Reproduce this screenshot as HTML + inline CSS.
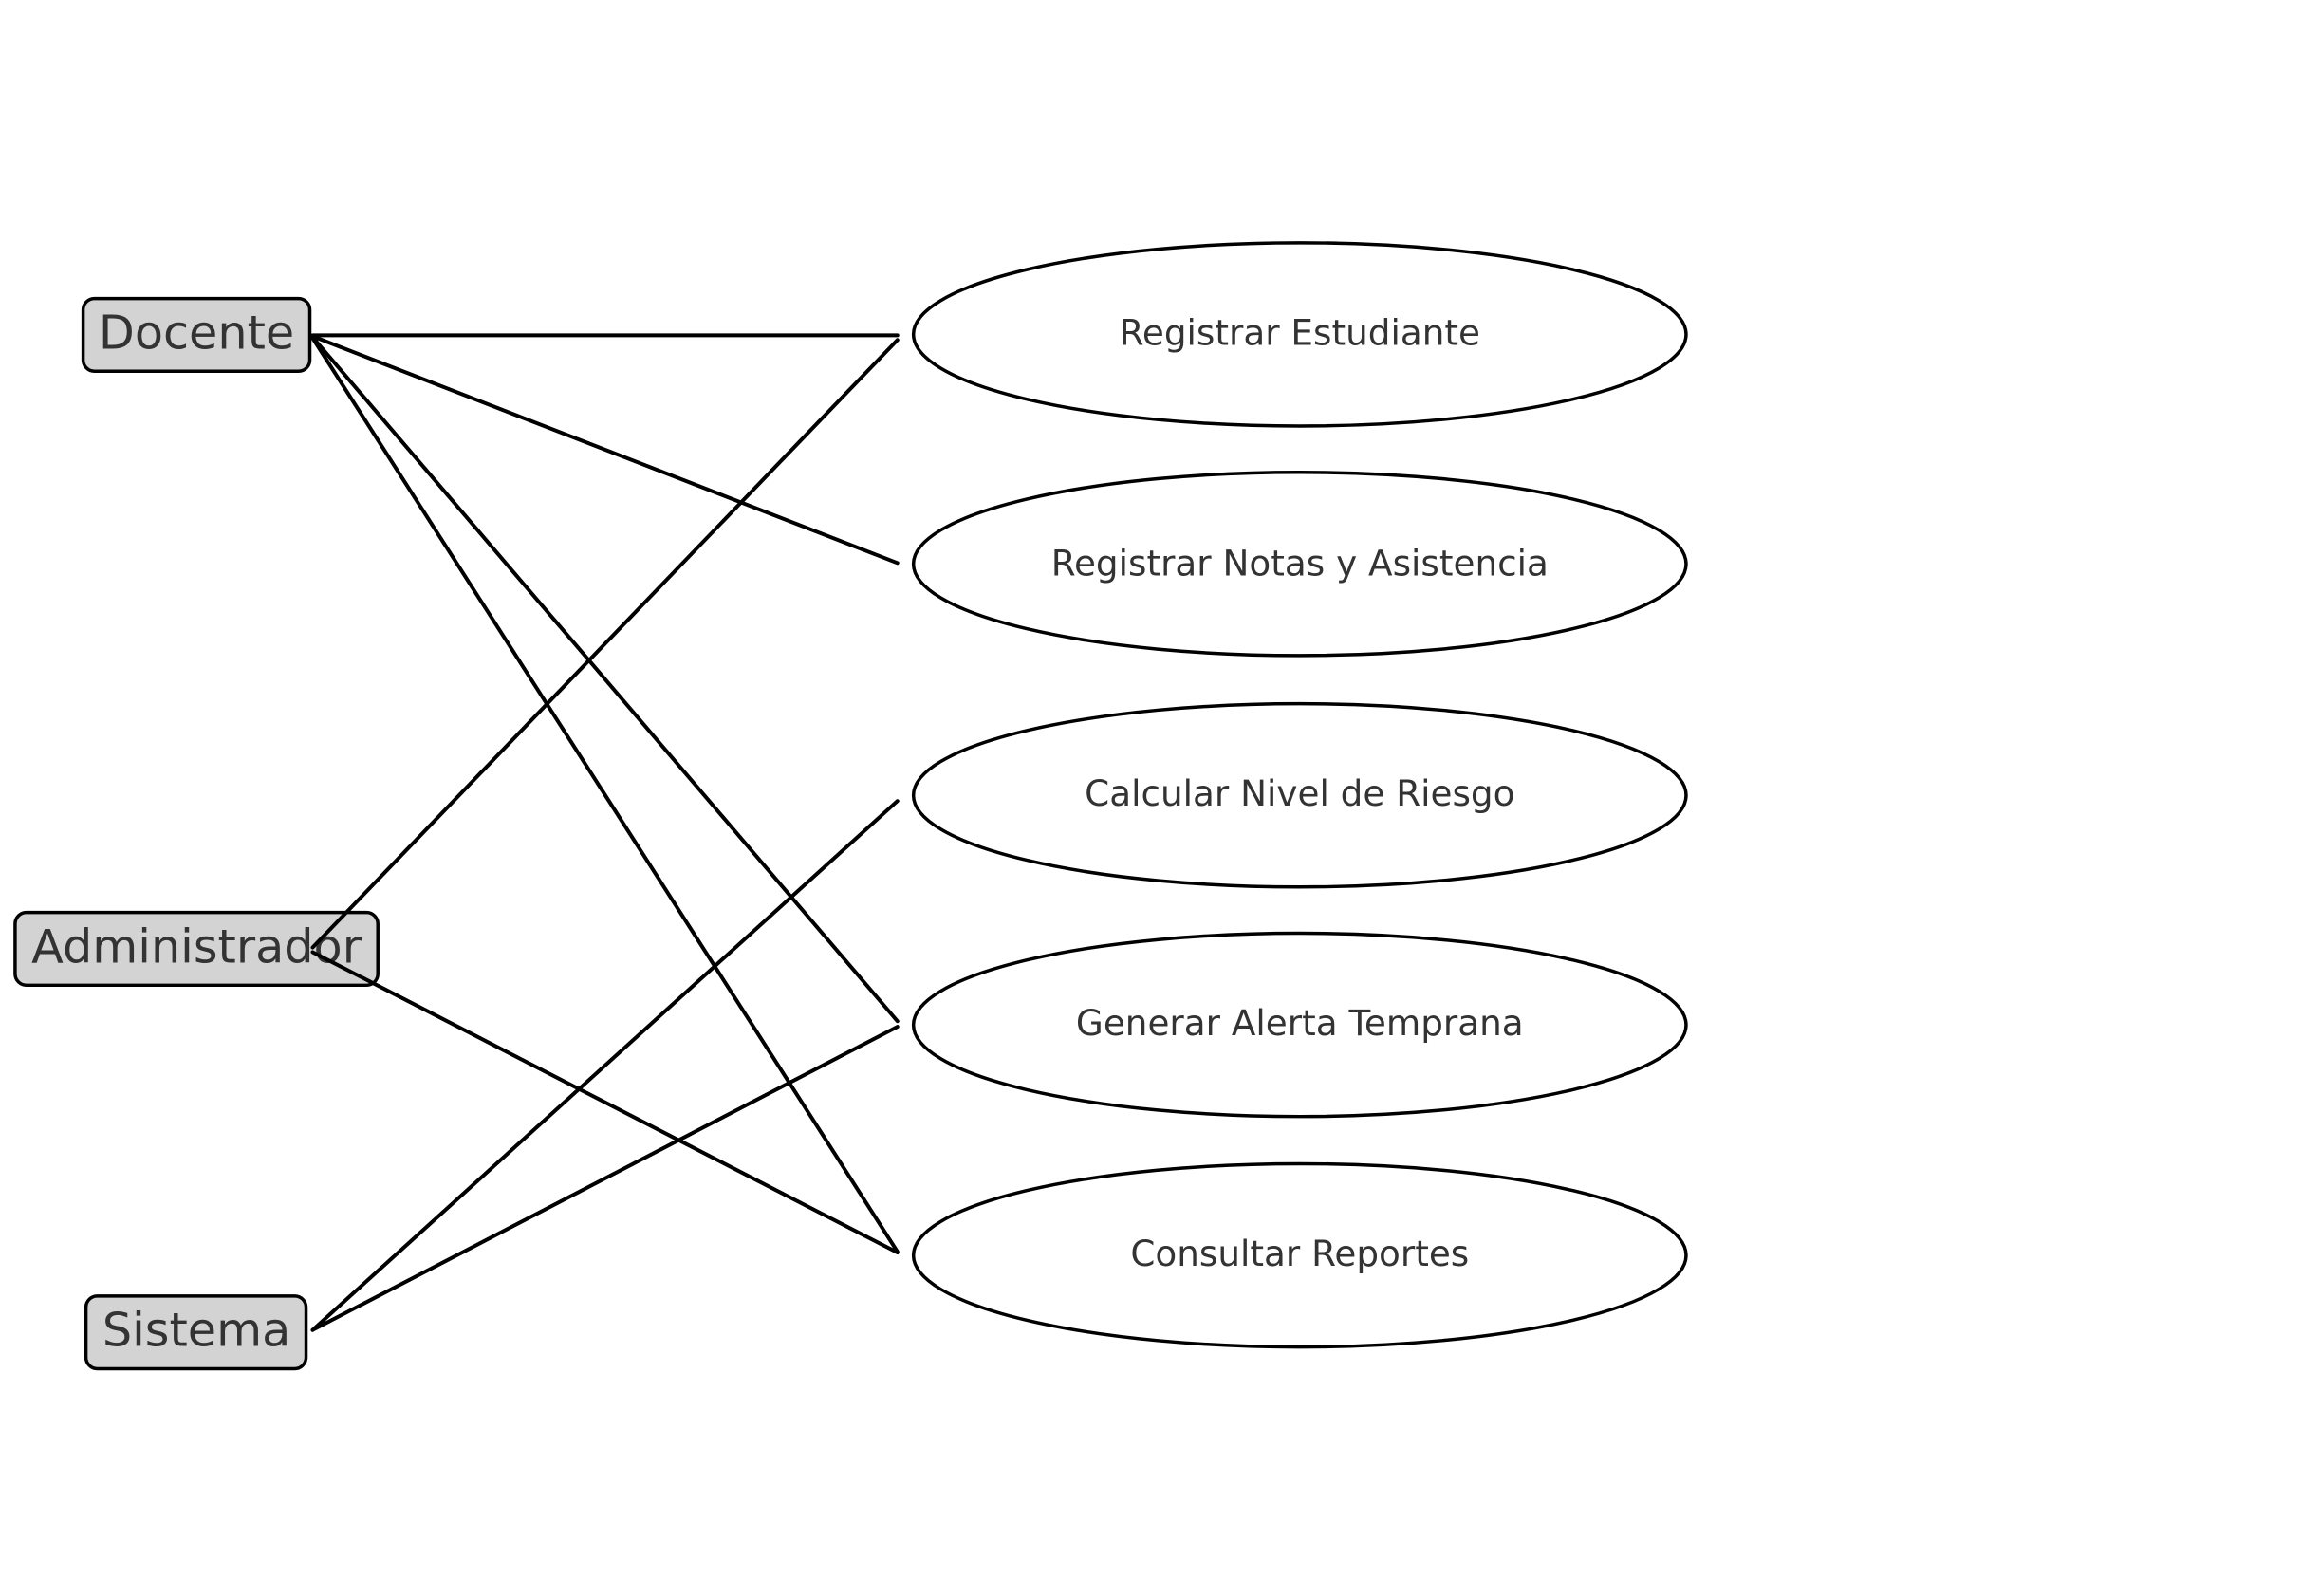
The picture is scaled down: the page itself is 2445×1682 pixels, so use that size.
<!DOCTYPE html>
<html><head><meta charset="utf-8"><style>html,body{margin:0;padding:0;background:#fff}</style></head>
<body>
<svg width="2445" height="1677" viewBox="0 0 2445 1677" xmlns="http://www.w3.org/2000/svg" font-family="'DejaVu Sans','Liberation Sans',sans-serif">
<g transform="scale(0.9955)">
<g stroke="#000" stroke-width="4" fill="none" stroke-linecap="round">
<line x1="331" y1="355" x2="950" y2="355"/>
<line x1="331" y1="356" x2="950" y2="596"/>
<line x1="331" y1="357" x2="950" y2="1081"/>
<line x1="331" y1="358" x2="950" y2="1325"/>
<line x1="331" y1="1408" x2="950" y2="848"/>
<line x1="331" y1="1408" x2="950" y2="1087"/>
</g>
<g stroke="#000" stroke-width="3.5" fill="#fff">
<ellipse cx="1376" cy="354" rx="409" ry="97"/>
<ellipse cx="1376" cy="597" rx="409" ry="97"/>
<ellipse cx="1376" cy="842" rx="409" ry="97"/>
<ellipse cx="1376" cy="1085" rx="409" ry="97"/>
<ellipse cx="1376" cy="1329" rx="409" ry="97"/>
</g>
<g fill="#333" font-size="37.5" text-anchor="middle" dominant-baseline="central">
<text x="1376" y="352">Registrar Estudiante</text>
<text x="1376" y="596">Registrar Notas y Asistencia</text>
<text x="1376" y="840">Calcular Nivel de Riesgo</text>
<text x="1376" y="1083">Generar Alerta Temprana</text>
<text x="1376" y="1327">Consultar Reportes</text>
</g>
<g stroke="#000" stroke-width="3.5" fill="#d3d3d3">
<rect x="88" y="316" width="240" height="77" rx="12"/>
<rect x="16" y="966" width="384" height="77" rx="12"/>
<rect x="91" y="1372" width="233" height="77" rx="12"/>
</g>
<g fill="#333" font-size="49.5" text-anchor="middle" dominant-baseline="central">
<text x="208" y="352">Docente</text>
<text x="208" y="1002">Administrador</text>
<text x="208" y="1408">Sistema</text>
</g>
<g stroke="#000" stroke-width="4" fill="none" stroke-linecap="round">
<line x1="331" y1="1003" x2="950" y2="360"/>
<line x1="331" y1="1008" x2="950" y2="1326"/>
</g>
</g>
</svg>
</body></html>
